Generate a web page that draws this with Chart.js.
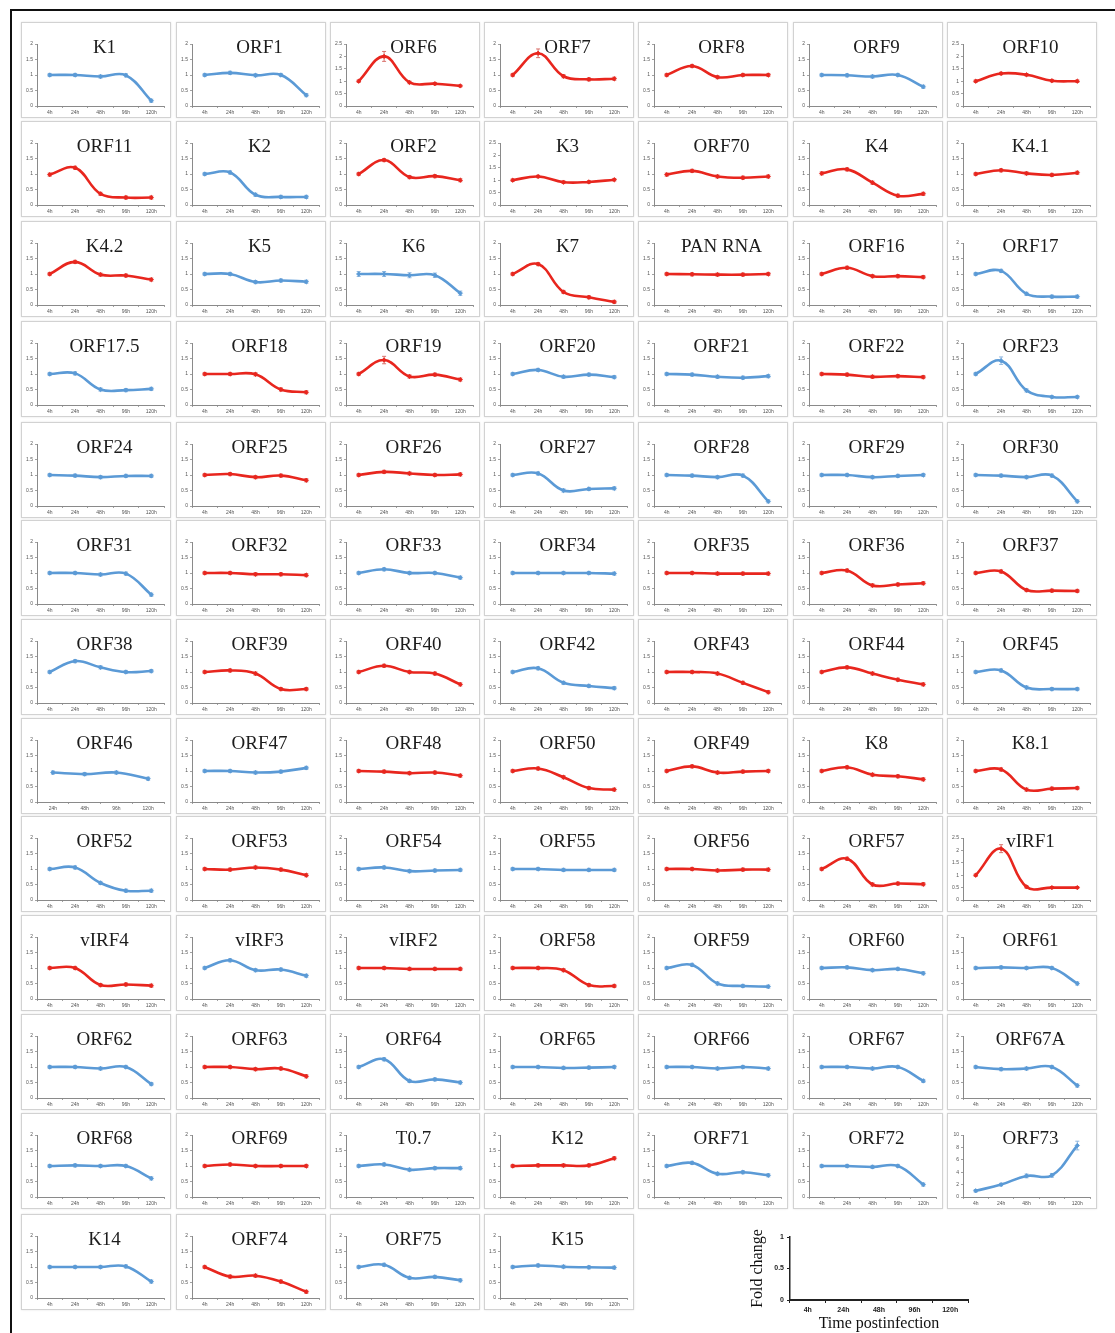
<!DOCTYPE html>
<html>
<head>
<meta charset="utf-8">
<title>KSHV gene expression time course</title>
<script src="https://cdn.jsdelivr.net/npm/chart.js@4.4.1/dist/chart.umd.min.js"></script>
<style>
  html, body { margin: 0; padding: 0; background: #fff; }
  #fig { position: relative; width: 1115px; height: 1333px; overflow: hidden; background: #fff; }
  .frame-top { position: absolute; left: 10px; top: 9px; width: 1105px; height: 2px; background: #111; }
  .frame-left { position: absolute; left: 10px; top: 9px; width: 2px; height: 1330px; background: #111; }
  .panel { position: absolute; width: 150px; height: 96px; box-sizing: border-box;
           border: 1px solid #d2d2d2; box-shadow: 0 0 2px #e4e4e4; background: #fff; }
  .panel canvas, .key canvas { display: block; }
  .key { position: absolute; left: 740px; top: 1223px; width: 240px; height: 110px; }
</style>
</head>
<body>
<div id="fig">
  <div class="frame-top"></div>
  <div class="frame-left"></div>
</div>
<script>
// Sampling times (hours post infection)
const timeLabels = ['4h', '24h', '48h', '96h', '120h'];
const timeLabelsFrom24 = ['24h', '48h', '96h', '120h'];
const keyTimeLabels = ['4h', '24h', '48h', '96h', '120h'];

// Fold change of each viral transcript at the sampling times
const K1 = [1.0, 1.0, 0.95, 0.99, 0.17];
const ORF1 = [1.0, 1.07, 0.99, 1.0, 0.35];
const ORF6 = [1.0, 2.0, 0.95, 0.9, 0.81];
const ORF7 = [1.0, 1.7, 0.96, 0.86, 0.88];
const ORF8 = [1.0, 1.29, 0.93, 1.0, 1.0];
const ORF9 = [1.0, 0.99, 0.95, 1.0, 0.62];
const ORF10 = [1.0, 1.31, 1.26, 1.02, 1.0];

const ORF11 = [0.98, 1.2, 0.36, 0.24, 0.24];
const K2 = [1.0, 1.05, 0.33, 0.26, 0.26];
const ORF2 = [1.0, 1.45, 0.9, 0.93, 0.8];
const K3 = [1.0, 1.15, 0.92, 0.93, 1.02];
const ORF70 = [0.98, 1.1, 0.92, 0.88, 0.92];
const K4 = [1.02, 1.15, 0.72, 0.3, 0.36];
const K4_1 = [1.0, 1.12, 1.02, 0.97, 1.04];

const K4_2 = [1.0, 1.39, 0.98, 0.95, 0.82];
const K5 = [1.0, 1.0, 0.74, 0.79, 0.75];
const K6 = [1.0, 1.0, 0.96, 0.96, 0.38];
const K7 = [1.0, 1.32, 0.42, 0.25, 0.1];
const PAN_RNA = [1.0, 0.99, 0.98, 0.98, 1.0];
const ORF16 = [1.0, 1.2, 0.93, 0.93, 0.9];
const ORF17 = [1.0, 1.1, 0.36, 0.27, 0.27];

const ORF17_5 = [1.0, 1.02, 0.5, 0.48, 0.52];
const ORF18 = [1.0, 1.0, 0.99, 0.5, 0.41];
const ORF19 = [1.0, 1.45, 0.92, 0.98, 0.82];
const ORF20 = [1.0, 1.13, 0.91, 0.98, 0.9];
const ORF21 = [1.0, 0.98, 0.91, 0.88, 0.93];
const ORF22 = [1.0, 0.98, 0.91, 0.93, 0.9];
const ORF23 = [1.0, 1.43, 0.47, 0.26, 0.26];

const ORF24 = [1.0, 0.98, 0.93, 0.97, 0.97];
const ORF25 = [1.0, 1.03, 0.93, 0.98, 0.83];
const ORF26 = [1.0, 1.1, 1.05, 1.0, 1.02];
const ORF27 = [1.0, 1.05, 0.5, 0.55, 0.57];
const ORF28 = [1.0, 0.98, 0.93, 0.98, 0.15];
const ORF29 = [1.0, 1.0, 0.93, 0.97, 1.0];
const ORF30 = [1.0, 0.98, 0.93, 0.98, 0.15];

const ORF31 = [1.0, 1.0, 0.95, 0.98, 0.3];
const ORF32 = [1.0, 1.0, 0.96, 0.96, 0.93];
const ORF33 = [1.0, 1.12, 1.0, 1.0, 0.85];
const ORF34 = [1.0, 1.0, 1.0, 1.0, 0.98];
const ORF35 = [1.0, 1.0, 0.98, 0.98, 0.98];
const ORF36 = [1.0, 1.08, 0.6, 0.63, 0.67];
const ORF37 = [1.0, 1.05, 0.45, 0.43, 0.42];

const ORF38 = [1.0, 1.35, 1.15, 1.0, 1.03];
const ORF39 = [1.0, 1.05, 0.95, 0.45, 0.45];
const ORF40 = [1.0, 1.2, 1.0, 0.95, 0.6];
const ORF42 = [1.0, 1.12, 0.65, 0.55, 0.48];
const ORF43 = [1.0, 1.0, 0.95, 0.65, 0.35];
const ORF44 = [1.0, 1.15, 0.95, 0.75, 0.6];
const ORF45 = [1.0, 1.05, 0.5, 0.45, 0.45];

const ORF46 = [0.95, 0.9, 0.95, 0.75];
const ORF47 = [1.0, 1.0, 0.95, 0.98, 1.1];
const ORF48 = [1.0, 0.98, 0.93, 0.95, 0.85];
const ORF50 = [1.0, 1.08, 0.8, 0.45, 0.4];
const ORF49 = [1.0, 1.15, 0.95, 0.98, 1.0];
const K8 = [1.0, 1.12, 0.88, 0.83, 0.73];
const K8_1 = [1.0, 1.05, 0.4, 0.43, 0.45];

const ORF52 = [1.0, 1.05, 0.55, 0.3, 0.3];
const ORF53 = [1.0, 0.98, 1.05, 0.98, 0.8];
const ORF54 = [1.0, 1.05, 0.93, 0.95, 0.97];
const ORF55 = [1.0, 1.0, 0.97, 0.97, 0.97];
const ORF56 = [1.0, 1.0, 0.95, 0.98, 0.98];
const ORF57 = [1.0, 1.33, 0.5, 0.53, 0.51];
const vIRF1 = [1.0, 2.07, 0.53, 0.5, 0.5];

const vIRF4 = [1.0, 1.0, 0.45, 0.47, 0.43];
const vIRF3 = [1.0, 1.25, 0.93, 0.95, 0.75];
const vIRF2 = [1.0, 1.0, 0.97, 0.97, 0.97];
const ORF58 = [1.0, 1.0, 0.93, 0.45, 0.42];
const ORF59 = [1.0, 1.1, 0.5, 0.42, 0.4];
const ORF60 = [1.0, 1.02, 0.93, 0.97, 0.83];
const ORF61 = [1.0, 1.02, 1.0, 1.0, 0.5];

const ORF62 = [1.0, 1.0, 0.95, 1.0, 0.45];
const ORF63 = [1.0, 1.0, 0.93, 0.95, 0.7];
const ORF64 = [1.0, 1.25, 0.55, 0.6, 0.5];
const ORF65 = [1.0, 1.0, 0.97, 0.98, 1.0];
const ORF66 = [1.0, 1.0, 0.95, 1.0, 0.95];
const ORF67 = [1.0, 1.0, 0.95, 1.0, 0.55];
const ORF67A = [1.0, 0.93, 0.95, 1.0, 0.4];

const ORF68 = [1.0, 1.02, 1.0, 1.0, 0.6];
const ORF69 = [1.0, 1.05, 1.0, 1.0, 1.0];
const T0_7 = [1.0, 1.05, 0.88, 0.93, 0.93];
const K12 = [1.0, 1.02, 1.02, 1.02, 1.25];
const ORF71 = [1.0, 1.1, 0.75, 0.8, 0.7];
const ORF72 = [1.0, 1.0, 0.97, 1.0, 0.4];
const ORF73 = [1.0, 2.0, 3.4, 3.5, 8.3];

const K14 = [1.0, 1.0, 1.0, 1.02, 0.53];
const ORF74 = [1.0, 0.69, 0.72, 0.53, 0.2];
const ORF75 = [1.0, 1.07, 0.65, 0.68, 0.57];
const K15 = [1.0, 1.05, 1.01, 0.99, 0.98];

// Panel order, row by row
const genePanels = [
  ['K1', K1], ['ORF1', ORF1], ['ORF6', ORF6], ['ORF7', ORF7], ['ORF8', ORF8], ['ORF9', ORF9], ['ORF10', ORF10],
  ['ORF11', ORF11], ['K2', K2], ['ORF2', ORF2], ['K3', K3], ['ORF70', ORF70], ['K4', K4], ['K4.1', K4_1],
  ['K4.2', K4_2], ['K5', K5], ['K6', K6], ['K7', K7], ['PAN RNA', PAN_RNA], ['ORF16', ORF16], ['ORF17', ORF17],
  ['ORF17.5', ORF17_5], ['ORF18', ORF18], ['ORF19', ORF19], ['ORF20', ORF20], ['ORF21', ORF21], ['ORF22', ORF22], ['ORF23', ORF23],
  ['ORF24', ORF24], ['ORF25', ORF25], ['ORF26', ORF26], ['ORF27', ORF27], ['ORF28', ORF28], ['ORF29', ORF29], ['ORF30', ORF30],
  ['ORF31', ORF31], ['ORF32', ORF32], ['ORF33', ORF33], ['ORF34', ORF34], ['ORF35', ORF35], ['ORF36', ORF36], ['ORF37', ORF37],
  ['ORF38', ORF38], ['ORF39', ORF39], ['ORF40', ORF40], ['ORF42', ORF42], ['ORF43', ORF43], ['ORF44', ORF44], ['ORF45', ORF45],
  ['ORF46', ORF46], ['ORF47', ORF47], ['ORF48', ORF48], ['ORF50', ORF50], ['ORF49', ORF49], ['K8', K8], ['K8.1', K8_1],
  ['ORF52', ORF52], ['ORF53', ORF53], ['ORF54', ORF54], ['ORF55', ORF55], ['ORF56', ORF56], ['ORF57', ORF57], ['vIRF1', vIRF1],
  ['vIRF4', vIRF4], ['vIRF3', vIRF3], ['vIRF2', vIRF2], ['ORF58', ORF58], ['ORF59', ORF59], ['ORF60', ORF60], ['ORF61', ORF61],
  ['ORF62', ORF62], ['ORF63', ORF63], ['ORF64', ORF64], ['ORF65', ORF65], ['ORF66', ORF66], ['ORF67', ORF67], ['ORF67A', ORF67A],
  ['ORF68', ORF68], ['ORF69', ORF69], ['T0.7', T0_7], ['K12', K12], ['ORF71', ORF71], ['ORF72', ORF72], ['ORF73', ORF73],
  ['K14', K14], ['ORF74', ORF74], ['ORF75', ORF75], ['K15', K15]
];

// Transcripts plotted in red; all others in blue
const redGenes = ['ORF6', 'ORF7', 'ORF8', 'ORF10', 'ORF11', 'ORF2', 'K3', 'ORF70', 'K4', 'K4.1',
  'K4.2', 'K7', 'PAN RNA', 'ORF16', 'ORF18', 'ORF19', 'ORF22', 'ORF25', 'ORF26', 'ORF32', 'ORF35',
  'ORF36', 'ORF37', 'ORF39', 'ORF40', 'ORF43', 'ORF44', 'ORF48', 'ORF50', 'ORF49', 'K8', 'K8.1',
  'ORF53', 'ORF56', 'ORF57', 'vIRF1', 'vIRF4', 'vIRF2', 'ORF58', 'ORF63', 'ORF69', 'K12', 'ORF74'];

// Y-axis upper limits that differ from 2
const axisMax = { 'ORF6': 2.5, 'ORF10': 2.5, 'K3': 2.5, 'vIRF1': 2.5, 'ORF73': 10 };

// Standard deviation: common value plus the larger ones
const errDefault = 0.05;
const errLarge = {
  'ORF6': [0.05, 0.2, 0.05, 0.05, 0.04],
  'ORF7': [0.05, 0.14, 0.05, 0.05, 0.05],
  'vIRF1': [0.05, 0.16, 0.05, 0.04, 0.04],
  'ORF19': [0.05, 0.12, 0.05, 0.05, 0.05],
  'ORF23': [0.05, 0.12, 0.05, 0.04, 0.04],
  'K6': [0.08, 0.08, 0.08, 0.07, 0.07],
  'ORF73': [0.2, 0.2, 0.3, 0.3, 0.7]
};

const RED = '#e8261e';
const BLUE = '#5b9ad6';
const RED_ERR = '#d9716b';
const BLUE_ERR = '#8db5de';

// Tick values written without trailing zeros: 0, 0.5, 1, 1.5, 2
const plainNumber = (v) => String(Number(Number(v).toFixed(2)));

// Draws the gene name over the upper part of the plot area
const panelTitle = {
  id: 'panelTitle',
  afterDraw(chart, args, opts) {
    if (!opts || !opts.text) return;
    const { ctx, chartArea } = chart;
    ctx.save();
    ctx.font = '19px "Liberation Serif", "DejaVu Serif", serif';
    ctx.fillStyle = '#1c1c1c';
    ctx.textAlign = 'center';
    ctx.textBaseline = 'middle';
    ctx.fillText(opts.text, (chartArea.left + chartArea.right) / 2 + 4, 25);
    ctx.restore();
  }
};

// Vertical error bars with small caps, drawn beneath the line
const errorBars = {
  id: 'errorBars',
  beforeDatasetsDraw(chart, args, opts) {
    if (!opts || !opts.errors) return;
    const { ctx } = chart;
    const yScale = chart.scales.y;
    const meta = chart.getDatasetMeta(0);
    const values = chart.data.datasets[0].data;
    ctx.save();
    ctx.strokeStyle = opts.color;
    ctx.lineWidth = 1;
    meta.data.forEach((pt, i) => {
      const e = opts.errors[i];
      if (!e) return;
      const yHi = yScale.getPixelForValue(values[i] + e);
      const yLo = yScale.getPixelForValue(values[i] - e);
      ctx.beginPath();
      ctx.moveTo(pt.x, yHi); ctx.lineTo(pt.x, yLo);
      ctx.moveTo(pt.x - 2, yHi); ctx.lineTo(pt.x + 2, yHi);
      ctx.moveTo(pt.x - 2, yLo); ctx.lineTo(pt.x + 2, yLo);
      ctx.stroke();
    });
    ctx.restore();
  }
};

const fig = document.getElementById('fig');
const colLeft = [21, 176, 330, 484, 638, 793, 947];
const rowTop = [22, 121, 221, 321, 422, 520, 619, 718, 816, 915, 1014, 1113, 1214];
const tickFont = { family: '"Liberation Sans", Arial, sans-serif', size: 5 };

genePanels.forEach(([name, values], idx) => {
  const col = idx % 7, row = Math.floor(idx / 7);
  const div = document.createElement('div');
  div.className = 'panel';
  div.style.left = colLeft[col] + 'px';
  div.style.top = rowTop[row] + 'px';
  const canvas = document.createElement('canvas');
  canvas.width = 148; canvas.height = 94;
  div.appendChild(canvas);
  fig.appendChild(div);

  const isRed = redGenes.includes(name);
  const color = isRed ? RED : BLUE;
  const yMax = axisMax[name] || 2;
  const step = yMax > 5 ? 2 : 0.5;
  const labels = values.length === 4 ? timeLabelsFrom24 : timeLabels;
  const errs = errLarge[name] || values.map(() => errDefault);

  new Chart(canvas, {
    type: 'line',
    data: {
      labels: labels,
      datasets: [{
        data: values,
        borderColor: color,
        backgroundColor: color,
        borderWidth: 2.6,
        tension: 0.4,
        pointStyle: 'rectRot',
        pointRadius: 2.2,
        pointBorderWidth: 0.8,
        fill: false
      }]
    },
    options: {
      responsive: false,
      animation: false,
      devicePixelRatio: 1,
      layout: { padding: { top: 21, right: 6, left: 0, bottom: 0 } },
      plugins: {
        legend: { display: false },
        tooltip: { enabled: false },
        panelTitle: { text: name },
        errorBars: { errors: errs, color: isRed ? RED_ERR : BLUE_ERR }
      },
      scales: {
        x: {
          type: 'category',
          offset: true,
          afterFit(scale) { scale.height = 11; },
          grid: { display: true, offset: true, drawOnChartArea: false, drawTicks: true, tickLength: 2, color: '#8a8a8a', lineWidth: 0.8 },
          border: { display: true, color: '#8a8a8a', width: 1 },
          ticks: { font: tickFont, color: '#555', padding: 2, maxRotation: 0, autoSkip: false }
        },
        y: {
          min: 0, max: yMax,
          afterFit(scale) { scale.width = 15; },
          grid: { display: true, drawOnChartArea: false, drawTicks: true, tickLength: 2, color: '#8a8a8a', lineWidth: 0.8 },
          border: { display: true, color: '#8a8a8a', width: 1 },
          ticks: { font: tickFont, color: '#555', padding: 2, stepSize: step, callback: plainNumber }
        }
      }
    },
    plugins: [panelTitle, errorBars]
  });
});

// Axis key: fold change against time post infection
const keyDiv = document.createElement('div');
keyDiv.className = 'key';
const keyCanvas = document.createElement('canvas');
keyCanvas.width = 240; keyCanvas.height = 110;
keyDiv.appendChild(keyCanvas);
fig.appendChild(keyDiv);

new Chart(keyCanvas, {
  type: 'line',
  data: { labels: keyTimeLabels, datasets: [] },
  options: {
    responsive: false,
    animation: false,
    devicePixelRatio: 1,
    layout: { padding: { top: 14, right: 12, left: 8, bottom: 0 } },
    plugins: { legend: { display: false }, tooltip: { enabled: false } },
    scales: {
      x: {
        type: 'category',
        offset: true,
        afterFit(scale) { scale.height = 33; },
        grid: { display: true, offset: true, drawOnChartArea: false, drawTicks: true, tickLength: 3, color: '#222', lineWidth: 1 },
        border: { display: true, color: '#222', width: 2 },
        ticks: { font: { family: '"Liberation Sans", Arial, sans-serif', size: 7, weight: 'bold' }, color: '#222', padding: 3, maxRotation: 0 },
        title: { display: true, text: 'Time postinfection', font: { family: '"Liberation Serif", serif', size: 16 }, color: '#111', padding: { top: 0, bottom: 0 } }
      },
      y: {
        min: 0, max: 1,
        afterFit(scale) { scale.width = 42; },
        grid: { display: true, drawOnChartArea: false, drawTicks: true, tickLength: 3, color: '#222', lineWidth: 1 },
        border: { display: true, color: '#222', width: 1.5 },
        ticks: { font: { family: '"Liberation Sans", Arial, sans-serif', size: 7, weight: 'bold' }, color: '#222', padding: 3, stepSize: 0.5, callback: plainNumber },
        title: { display: true, text: 'Fold change', font: { family: '"Liberation Serif", serif', size: 16 }, color: '#111', padding: 0 }
      }
    }
  }
});
</script>
</body>
</html>
